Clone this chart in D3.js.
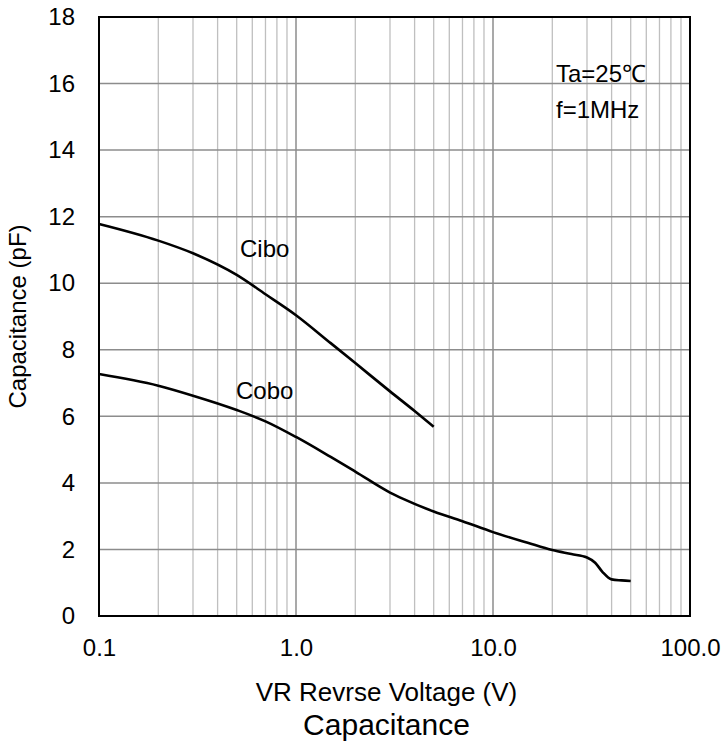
<!DOCTYPE html>
<html>
<head>
<meta charset="utf-8">
<title>Capacitance</title>
<script src="https://cdn.jsdelivr.net/npm/d3@7"></script>
<style>
  body { margin: 0; background: #fff; }
  svg { display: block; font-family: "Liberation Sans", Arial, sans-serif; }
  .grid-minor { stroke: #bfbfbf; stroke-width: 1.3; }
  .grid-major { stroke: #8c8c8c; stroke-width: 1.5; }
  .curve { fill: none; stroke: #000; stroke-width: 2.6; }
</style>
</head>
<body>
<svg id="chart" width="727" height="745"></svg>
<script>
// values
var ciboV = [0.1, 0.2, 0.3, 0.5, 0.7, 1, 1.5, 2, 3, 4, 5];
var ciboC = [11.78, 11.28, 10.9, 10.25, 9.67, 9.04, 8.2, 7.6, 6.75, 6.16, 5.69];

var coboV = [0.1, 0.2, 0.3, 0.5, 0.7, 1, 1.5, 2, 3, 3.5, 5, 7, 10, 15, 20, 25, 30, 33, 36, 40, 45, 50];
var coboC = [7.27, 6.92, 6.62, 6.19, 5.85, 5.38, 4.78, 4.34, 3.71, 3.52, 3.14, 2.85, 2.52, 2.2, 1.98, 1.86, 1.76, 1.6, 1.32, 1.1, 1.07, 1.05];

var xTicks = [0.1, 1, 10, 100];
var xTickLabels = ["0.1", "1.0", "10.0", "100.0"];
var yTicks = [0, 2, 4, 6, 8, 10, 12, 14, 16, 18];

var svg = d3.select("#chart");
var pLeft = 99, pRight = 690, pTop = 17, pBottom = 616;

var x = d3.scaleLog().domain([0.1, 100]).range([pLeft, pRight]);
var y = d3.scaleLinear().domain([0, 18]).range([pBottom, pTop]);

// minor vertical grid (2..9 in every decade)
var minor = [];
[0.1, 1, 10].forEach(function (dec) {
    for (var k = 2; k <= 9; k++) minor.push(dec * k);
});
svg.append("g").selectAll("line").data(minor).join("line")
    .attr("class", "grid-minor")
    .attr("x1", function (d) { return x(d); }).attr("x2", function (d) { return x(d); })
    .attr("y1", pTop).attr("y2", pBottom);

svg.append("g").selectAll("line").data([1, 10]).join("line")
    .attr("class", "grid-major")
    .attr("x1", function (d) { return x(d); }).attr("x2", function (d) { return x(d); })
    .attr("y1", pTop).attr("y2", pBottom);

svg.append("g").selectAll("line").data(yTicks.slice(1, -1)).join("line")
    .attr("class", "grid-major")
    .attr("x1", pLeft).attr("x2", pRight)
    .attr("y1", function (d) { return y(d); }).attr("y2", function (d) { return y(d); });

// frame
svg.append("rect")
    .attr("x", pLeft).attr("y", pTop)
    .attr("width", pRight - pLeft).attr("height", pBottom - pTop)
    .attr("fill", "none").attr("stroke", "#000").attr("stroke-width", 2);

// axes (labels only, no tick marks)
var yAxis = d3.axisLeft(y).tickValues(yTicks).tickSize(0).tickPadding(24).tickFormat(d3.format("d"));
svg.append("g").attr("transform", "translate(" + pLeft + ",0)").call(yAxis)
    .call(function (g) { g.select(".domain").remove(); })
    .selectAll("text").style("font-size", "24px").style("font-family", "Liberation Sans, Arial, sans-serif").attr("fill", "#000");

var xAxis = d3.axisBottom(x).tickValues(xTicks).tickSize(0).tickPadding(23)
    .tickFormat(function (d, i) { return xTickLabels[i]; });
svg.append("g").attr("transform", "translate(0," + pBottom + ")").call(xAxis)
    .call(function (g) { g.select(".domain").remove(); })
    .selectAll("text").style("font-size", "24px").style("font-family", "Liberation Sans, Arial, sans-serif").attr("fill", "#000");

var line = d3.line()
    .x(function (d) { return x(d[0]); })
    .y(function (d) { return y(d[1]); })
    .curve(d3.curveMonotoneX);

svg.append("path").attr("class", "curve")
    .attr("d", line(d3.zip(ciboV, ciboC)));
svg.append("path").attr("class", "curve")
    .attr("d", line(d3.zip(coboV, coboC)));

// labels
function label(txt, px, py, size, anchor) {
    return svg.append("text").attr("x", px).attr("y", py)
        .attr("font-size", size).attr("text-anchor", anchor || "start")
        .attr("fill", "#000").text(txt);
}
label("Cibo", 240, 257, 24);
label("Cobo", 236, 399, 24);
label("Ta=25\u2103", 556, 82, 24);
label("f=1MHz", 556, 118, 24);

label("VR Revrse Voltage (V)", (pLeft + pRight) / 2 - 8, 701, 26, "middle");
label("Capacitance", (pLeft + pRight) / 2 - 8, 735, 30, "middle");

svg.append("text")
    .attr("transform", "translate(26," + ((pTop + pBottom) / 2) + ") rotate(-90)")
    .attr("text-anchor", "middle").attr("font-size", 24).attr("fill", "#000")
    .text("Capacitance (pF)");
</script>
</body>
</html>
